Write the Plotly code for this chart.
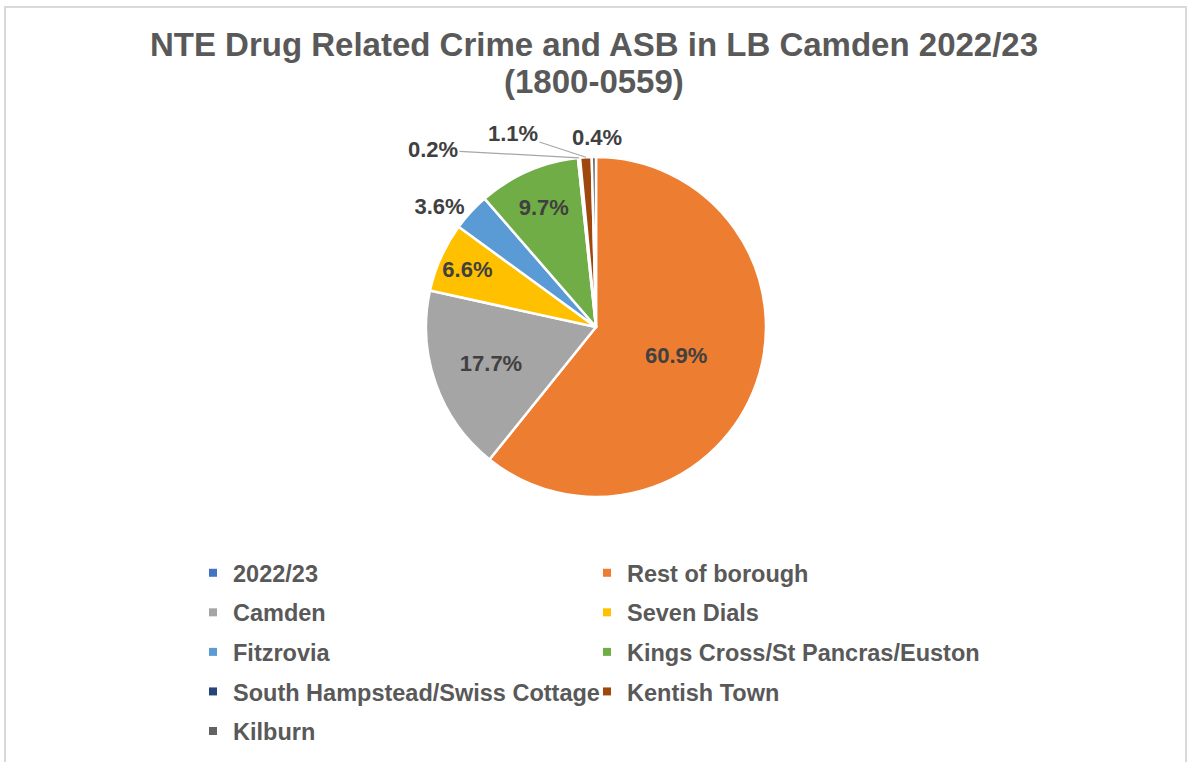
import math
import plotly.graph_objects as go

# Category labels, shares (%) and slice colours
labels = [
    "2022/23",
    "Rest of borough",
    "Camden",
    "Seven Dials",
    "Fitzrovia",
    "Kings Cross/St Pancras/Euston",
    "South Hampstead/Swiss Cottage",
    "Kentish Town",
    "Kilburn",
]
shares = [0, 60.9, 17.7, 6.6, 3.6, 9.7, 0.2, 1.1, 0.4]
colors = ["#4472C4", "#ED7D31", "#A5A5A5", "#FFC000", "#5B9BD5",
          "#70AD47", "#264478", "#9E480E", "#636363"]

title_line1 = "NTE Drug Related Crime and ASB in LB Camden 2022/23"
title_line2 = "(1800-0559)"

W, H = 1188, 762
FONT = "Liberation Sans, Arial, sans-serif"
LABEL_COLOR = "#404040"
TEXT_COLOR = "#595959"

# pie placement in pixels (centre and radius)
CX, CY, R = 596, 327, 170

# slices under 2% are labelled with callouts; zero-value slices get no label
def slice_text(v):
    if v == 0 or v < 2:
        return ""
    return "%{value:.1f}%"

templates = [slice_text(v) for v in shares]
positions = ["inside" if v >= 5 else "outside" for v in shares]

fig = go.Figure()
fig.add_trace(
    go.Pie(
        labels=labels,
        values=shares,
        sort=False,
        direction="clockwise",
        rotation=0,
        marker=dict(colors=colors, line=dict(color="white", width=2.5)),
        texttemplate=templates,
        textposition=positions,
        insidetextorientation="horizontal",
        textfont=dict(family=FONT, size=22, color=LABEL_COLOR, weight="bold"),
        domain=dict(x=[(CX - R) / W, (CX + R) / W],
                    y=[1 - (CY + R) / H, 1 - (CY - R) / H]),
        hoverinfo="label+percent",
        showlegend=False,
    )
)

# legend entries: left column / right column, one group per entry
for i, (name, col) in enumerate(zip(labels, colors)):
    fig.add_trace(
        go.Scatter(
            x=[None],
            y=[None],
            mode="markers",
            marker=dict(symbol="square", size=8, color=col),
            name=name,
            legend="legend" if i % 2 == 0 else "legend2",
            legendgroup=name,
            showlegend=True,
            hoverinfo="skip",
        )
    )

# callouts for the thin slices near the top of the pie
callout_offsets = {
    "South Hampstead/Swiss Cottage": dict(ax=-146, ay=-8, arrow=True),
    "Kentish Town": dict(ax=-73, ay=-24, arrow=True),
    "Kilburn": dict(ax=3, ay=-34, arrow=False),
}
total = sum(shares)
annotations = []
cum = 0.0
for name, v in zip(labels, shares):
    mid = (cum + v / 2) / total * 2 * math.pi
    cum += v
    if name not in callout_offsets:
        continue
    px = CX + R * math.sin(mid)
    py = CY - R * math.cos(mid)
    off = callout_offsets[name]
    ann = dict(
        x=px / W,
        y=1 - py / H,
        xref="paper",
        yref="paper",
        text="<b>%.1f%%</b>" % v,
        font=dict(family=FONT, size=22, color=LABEL_COLOR),
    )
    if off["arrow"]:
        ann.update(showarrow=True, ax=off["ax"], ay=off["ay"], arrowhead=0,
                   arrowwidth=1.2, arrowcolor="#A6A6A6", standoff=0)
    else:
        ann.update(showarrow=False, xshift=off["ax"], yshift=-off["ay"])
    annotations.append(ann)

# second title line
annotations.append(
    dict(
        x=0.5,
        y=1 - 82 / H,
        xref="paper",
        yref="paper",
        xanchor="center",
        yanchor="middle",
        text="<b>" + title_line2 + "</b>",
        showarrow=False,
        font=dict(family=FONT, size=33, color=TEXT_COLOR),
    )
)

legend_common = dict(
    orientation="v",
    xanchor="left",
    yanchor="top",
    y=1 - 551 / H,
    traceorder="grouped",
    tracegroupgap=6,
    itemwidth=30,
    font=dict(family=FONT, size=23.5, color=TEXT_COLOR, weight="bold"),
    bgcolor="rgba(0,0,0,0)",
)

fig.update_layout(
    width=W,
    height=H,
    margin=dict(l=0, r=0, t=0, b=0),
    paper_bgcolor="white",
    plot_bgcolor="white",
    font=dict(family=FONT, color=TEXT_COLOR),
    xaxis=dict(visible=False),
    yaxis=dict(visible=False),
    title=dict(
        text="<b>" + title_line1 + "</b>",
        x=0.5,
        xanchor="center",
        y=1 - 44 / H,
        yanchor="middle",
        font=dict(family=FONT, size=33, color=TEXT_COLOR),
    ),
    legend=dict(x=193 / W, **legend_common),
    legend2=dict(x=587 / W, **legend_common),
    annotations=annotations,
    shapes=[
        dict(
            type="rect",
            xref="paper",
            yref="paper",
            x0=5 / W,
            x1=1186 / W,
            y0=-0.05,
            y1=1 - 7 / H,
            line=dict(color="#D9D9D9", width=2),
            fillcolor="rgba(0,0,0,0)",
        )
    ],
)

fig.write_html("out.html")
